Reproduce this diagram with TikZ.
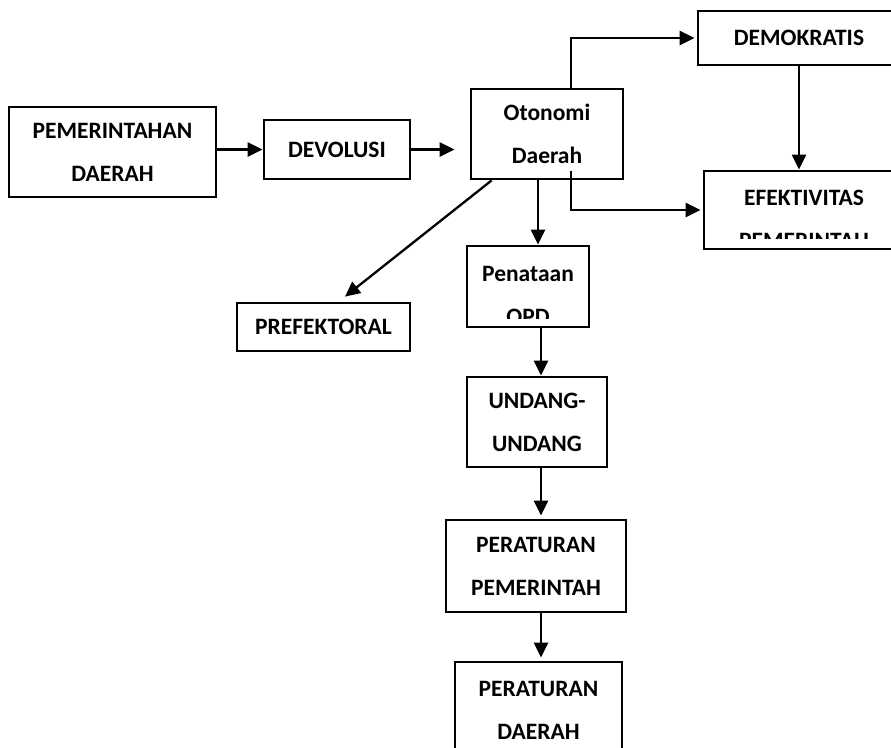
\documentclass[tikz,border=0pt]{standalone}
\usepackage{fontspec}
\setmainfont{Carlito}
\usepackage{tikz}
\usetikzlibrary{arrows.meta}

\tikzset{
    kotak/.style={draw, line width=2.8pt, rectangle, inner sep=0pt, align=center,
        font=\bfseries\fontsize{23.5}{43}\selectfont},
    teks/.style={inner sep=0pt, align=center, font=\bfseries\fontsize{23.5}{43}\selectfont},
    panah/.style={line width=2.3pt, -{Triangle[length=15pt,width=14pt]}}
}

\begin{document}
\begin{tikzpicture}[x=1pt, y=-1pt]
        \clip (0,0) rectangle (891,747);

        % Kotak baris atas
        \node[kotak, minimum width=207, minimum height=90] (pemda) at (112.5,152) {PEMERINTAHAN\\DAERAH};
        \node[kotak, minimum width=146, minimum height=59] (devolusi) at (337,149.5) {DEVOLUSI};
        \node[kotak, minimum width=152, minimum height=90] (otonomi) at (547,134) {Otonomi\\Daerah};
        \node[kotak, minimum width=202, minimum height=54] (demokratis) at (799,38) {DEMOKRATIS};
        \node[kotak, minimum width=200, minimum height=78,
            path picture={
                \clip ([yshift=11pt]path picture bounding box.south west) rectangle (path picture bounding box.north east);
                \node[teks] at ([yshift=-9pt]path picture bounding box.center) {EFEKTIVITAS\\PEMERINTAH};}]
            (efektivitas) at (804,210) {};

        % Kotak bawah
        \node[kotak, minimum width=173, minimum height=48] (prefektoral) at (323.5,327) {PREFEKTORAL};
        \node[kotak, minimum width=122, minimum height=81,
            path picture={
                \clip ([yshift=9pt]path picture bounding box.south west) rectangle (path picture bounding box.north east);
                \node[teks] at ([yshift=-9pt]path picture bounding box.center) {Penataan\\OPD};}]
            (penataan) at (528,286.5) {};
        \node[kotak, minimum width=140, minimum height=90] (undang) at (537,422) {UNDANG-\\UNDANG};
        \node[kotak, minimum width=180, minimum height=92] (perpem) at (536,566) {PERATURAN\\PEMERINTAH};
        \node[kotak, minimum width=167, minimum height=96] (perda) at (538.5,710) {PERATURAN\\DAERAH};

        % Panah
        \draw[panah] (pemda.east |- devolusi.west) -- (devolusi.west);
        \draw[panah, shorten >=15pt] (devolusi.east) -- (devolusi.east -| otonomi.west);
        \draw[panah] ([xshift=24pt]otonomi.north) |- ([xshift=-2pt]demokratis.west);
        \draw[panah] ([xshift=24pt, yshift=9pt]otonomi.south) |- ([xshift=-2pt]efektivitas.west);
        \draw[panah] (demokratis.south) -- (demokratis.south |- efektivitas.north);
        \draw[panah] ([xshift=-9pt]otonomi.south) -- ([xshift=-9pt]otonomi.south |- penataan.north);
        \draw[panah] ([xshift=22pt]otonomi.south west) -- ([xshift=21.5pt, yshift=5pt]prefektoral.north);
        \draw[panah] ([xshift=4pt]undang.north |- penataan.south) -- ([xshift=4pt]undang.north);
        \draw[panah] ([xshift=4pt]undang.south) -- ([xshift=4pt, yshift=3pt]undang.south |- perpem.north);
        \draw[panah] ([xshift=5pt]perpem.south) -- ([xshift=5pt, yshift=3pt]perpem.south |- perda.north);
    \end{tikzpicture}
\end{document}
